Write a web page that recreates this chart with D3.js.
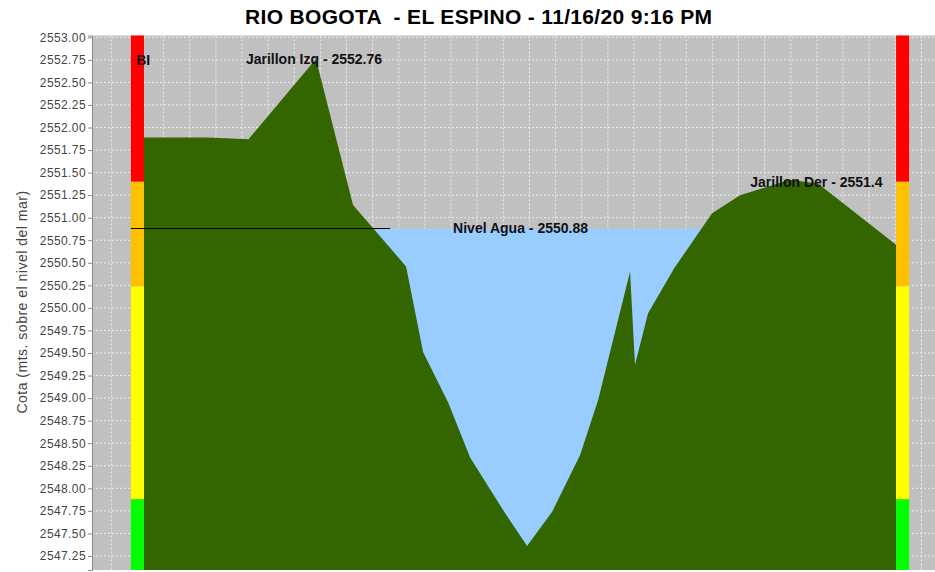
<!DOCTYPE html>
<html>
<head>
<meta charset="utf-8">
<script src="https://cdn.jsdelivr.net/npm/d3@7"></script>
<style>
  body { margin: 0; background: #fff; }
  text { font-family: Arial, "Liberation Sans", sans-serif; }
</style>
</head>
<body>
<div id="chart"></div>
<script>
// perfil transversal (abscisa, cota)
var abscisa = [1.25, 3.7, 5.25, 7.83, 9.25, 11.28, 11.93, 12.89, 13.73, 14.99, 15.91,
               16.87, 17.94, 18.63, 19.85, 20.04, 20.54, 21.54, 22.99, 24.06, 25.97, 27.04, 30.03];
var cota = [2551.89, 2551.89, 2551.87, 2552.76, 2551.14, 2550.46, 2549.51, 2548.95, 2548.34, 2547.76, 2547.36,
            2547.74, 2548.37, 2548.98, 2550.40, 2549.37, 2549.94, 2550.44, 2551.05, 2551.25, 2551.42, 2551.38, 2550.70];

var nivelAgua = 2550.88;
var jarillonIzq = 2552.76;
var jarillonDer = 2551.4;
// umbrales de alerta (verde / amarillo / naranja / rojo)
var umbrales = [2547.88, 2550.24, 2551.40];
var barrasAbscisa = [0.75, 30.03];
var lineaAguaAbscisa = [0.75, 10.67];

var xDomain = [-0.739, 31.52];
var yDomain = [2547.094, 2553.02];
var xGrid = d3.range(0, 32);
var yTicks = d3.range(2547.25, 2553.001, 0.25);

var titulo = "RIO BOGOTA  - EL ESPINO - 11/16/20 9:16 PM";

var W = 935, H = 572;
var mLeft = 92, mRight = 935, mTop = 35.5, mBottom = 570;

var svg = d3.select("#chart").append("svg")
    .attr("width", W)
    .attr("height", H);

var x = d3.scaleLinear().domain(xDomain).range([mLeft, mRight]);
var y = d3.scaleLinear().domain(yDomain).range([mBottom, mTop]);

svg.append("rect")
    .attr("x", mLeft).attr("y", mTop)
    .attr("width", mRight - mLeft).attr("height", mBottom - mTop)
    .attr("fill", "#c0c0c0");

// grid
svg.append("g").selectAll("line")
    .data(xGrid).enter().append("line")
    .attr("x1", function(d) { return x(d); })
    .attr("x2", function(d) { return x(d); })
    .attr("y1", mTop).attr("y2", mBottom)
    .attr("stroke", "#ececec").attr("stroke-width", 1)
    .attr("stroke-dasharray", "2,2");

svg.append("g").selectAll("line")
    .data(yTicks).enter().append("line")
    .attr("x1", mLeft).attr("x2", mRight)
    .attr("y1", function(d) { return y(d); })
    .attr("y2", function(d) { return y(d); })
    .attr("stroke", "#ececec").attr("stroke-width", 1)
    .attr("stroke-dasharray", "2,2");

// agua
var pts = abscisa.map(function(d, i) { return [d, cota[i]]; });
function cruce(a, b) {
    var t = (nivelAgua - a[1]) / (b[1] - a[1]);
    return a[0] + t * (b[0] - a[0]);
}
var xIni = null, xFin = null;
for (var i = 1; i < pts.length; i++) {
    if (xIni === null && pts[i - 1][1] >= nivelAgua && pts[i][1] < nivelAgua) xIni = cruce(pts[i - 1], pts[i]);
    if (pts[i - 1][1] < nivelAgua && pts[i][1] >= nivelAgua) xFin = cruce(pts[i - 1], pts[i]);
}
svg.append("rect")
    .attr("x", x(xIni)).attr("y", y(nivelAgua))
    .attr("width", x(xFin) - x(xIni)).attr("height", mBottom - y(nivelAgua))
    .attr("fill", "#99ccff");

// terreno
var area = d3.area()
    .x(function(d) { return x(d[0]); })
    .y0(mBottom)
    .y1(function(d) { return y(d[1]); });
svg.append("path")
    .datum(pts)
    .attr("d", area)
    .attr("fill", "#336600");

// barras de alerta
var colores = ["#00ff00", "#ffff00", "#ffc000", "#ff0000"];
var tramos = [yDomain[0]].concat(umbrales).concat([yDomain[1]]);
barrasAbscisa.forEach(function(b) {
    for (var k = 0; k < colores.length; k++) {
        svg.append("rect")
            .attr("x", x(b)).attr("width", x(b + 0.5) - x(b))
            .attr("y", y(tramos[k + 1]))
            .attr("height", y(tramos[k]) - y(tramos[k + 1]))
            .attr("fill", colores[k]);
    }
});

// linea de agua
svg.append("line")
    .attr("x1", x(lineaAguaAbscisa[0])).attr("x2", x(lineaAguaAbscisa[1]))
    .attr("y1", y(nivelAgua)).attr("y2", y(nivelAgua))
    .attr("stroke", "#000").attr("stroke-width", 1);

// etiquetas
function etiqueta(tx, ty, s) {
    svg.append("text")
        .attr("x", tx).attr("y", ty)
        .attr("dy", "0.35em")
        .style("font-size", "14px").style("font-weight", "bold")
        .attr("fill", "#111")
        .text(s);
}
etiqueta(x(0.95), y(2552.75), "BI");
etiqueta(x(5.15), y(jarillonIzq), "Jarillon Izq - " + jarillonIzq);
etiqueta(x(24.45), y(jarillonDer), "Jarillon Der - " + jarillonDer);
etiqueta(x(13.08), y(nivelAgua), "Nivel Agua - " + nivelAgua.toFixed(2));

// eje y
var yAxis = svg.append("g")
    .attr("transform", "translate(" + mLeft + ",0)")
    .call(d3.axisLeft(y).tickValues(yTicks).tickSize(4).tickPadding(2)
        .tickFormat(d3.format(".2f")));
yAxis.select(".domain").attr("stroke", "#888");
yAxis.selectAll(".tick line").attr("stroke", "#888");
yAxis.selectAll(".tick text")
    .style("font-size", "12px")
    .style("letter-spacing", "0.4px")
    .attr("fill", "#444");

svg.append("text")
    .attr("transform", "translate(22,302) rotate(-90)")
    .attr("text-anchor", "middle")
    .attr("dy", "0.35em")
    .style("font-size", "14px")
    .style("letter-spacing", "0.5px")
    .attr("fill", "#444")
    .text("Cota (mts. sobre el nivel del mar)");

svg.append("text")
    .attr("x", 245).attr("y", 17)
    .attr("dy", "0.35em")
    .attr("textLength", 467)
    .attr("lengthAdjust", "spacing")
    .style("font-size", "21px").style("font-weight", "bold")
    .style("white-space", "pre")
    .attr("fill", "#000")
    .text(titulo);
</script>
</body>
</html>
